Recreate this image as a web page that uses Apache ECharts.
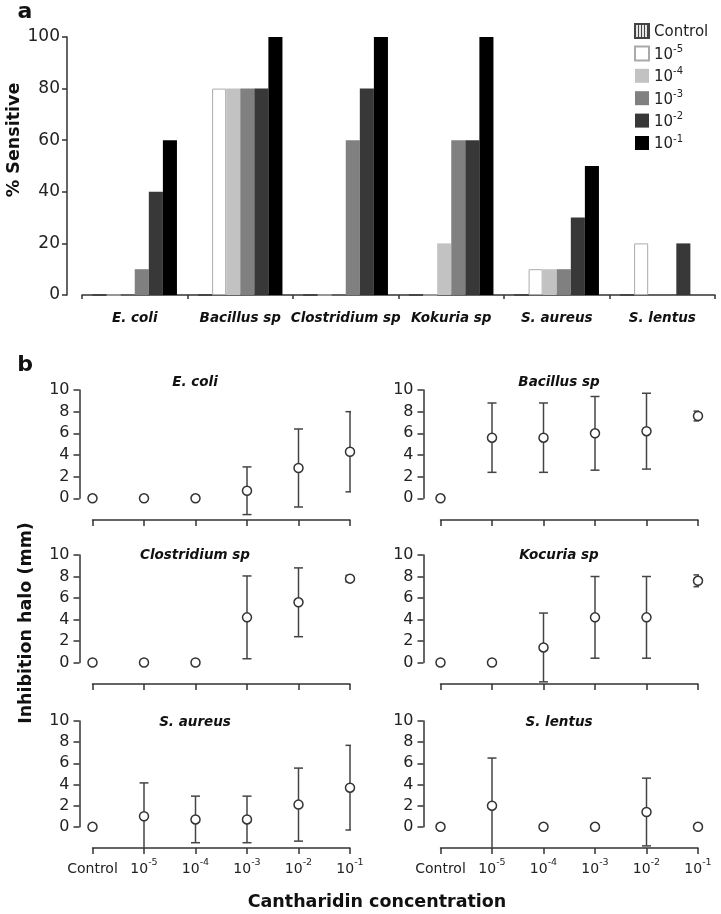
<!DOCTYPE html>
<html><head><meta charset="utf-8">
<script src="https://cdn.jsdelivr.net/npm/echarts@6/dist/echarts.min.js"></script>
<style>html,body{margin:0;padding:0;background:#fff}#c{width:721px;height:914px}</style>
</head><body><div id="c"></div>
<script>
const FONT = 'DejaVu Sans';
// ---------- Panel a data ----------
const organismsA = ['E. coli', 'Bacillus sp', 'Clostridium sp', 'Kokuria sp', 'S. aureus', 'S. lentus'];
const concNames = ['Control', '10^-5', '10^-4', '10^-3', '10^-2', '10^-1'];
const sensControl = [0, 0, 0, 0, 0, 0];
const sens1e5 = [0, 80, 0, 0, 10, 20];
const sens1e4 = [0, 80, 0, 20, 10, 0];
const sens1e3 = [10, 80, 60, 60, 10, 0];
const sens1e2 = [40, 80, 80, 60, 30, 20];
const sens1e1 = [60, 100, 100, 100, 50, 0];
const sensTicks = [0, 20, 40, 60, 80, 100];

// ---------- Panel b data (mean, error) ----------
const haloTitles = ['E. coli', 'Bacillus sp', 'Clostridium sp', 'Kocuria sp', 'S. aureus', 'S. lentus'];
const ecoliMean = [0, 0, 0, 0.7, 2.8, 4.3];
const ecoliErr = [0, 0, 0, 2.2, 3.6, 3.7];
const bacillusMean = [0, 5.6, 5.6, 6.0, 6.2, 7.6];
const bacillusErr = [0, 3.2, 3.2, 3.4, 3.5, 0.45];
const clostridiumMean = [0, 0, 0, 4.2, 5.6, 7.8];
const clostridiumErr = [0, 0, 0, 3.85, 3.2, 0.3];
const kocuriaMean = [0, 0, 1.4, 4.2, 4.2, 7.6];
const kocuriaErr = [0, 0, 3.2, 3.8, 3.8, 0.55];
const saureusMean = [0, 1.0, 0.7, 0.7, 2.1, 3.7];
const saureusErr = [0, 3.15, 2.2, 2.2, 3.45, 4.0];
const slentusMean = [0, 2.0, 0, 0, 1.4, 0];
const slentusErr = [0, 4.5, 0, 0, 3.2, 0];
const haloTicks = [0, 2, 4, 6, 8, 10];
const haloMin = -2;

const sensSeriesData = [sensControl, sens1e5, sens1e4, sens1e3, sens1e2, sens1e1];
const haloMeans = [ecoliMean, bacillusMean, clostridiumMean, kocuriaMean, saureusMean, slentusMean];
const haloErrs = [ecoliErr, bacillusErr, clostridiumErr, kocuriaErr, saureusErr, slentusErr];

// ---------- styling ----------
const barStyles = [
  {color: '#e6e6e6', borderColor: '#444', borderWidth: 1,
   decal: {symbol: 'rect', symbolSize: 1, color: '#444', dashArrayX: [1, 2], dashArrayY: [4, 0], rotation: 0}},
  {color: '#ffffff', borderColor: '#aaaaaa', borderWidth: 1},
  {color: '#c2c2c2'},
  {color: '#808080'},
  {color: '#383838'},
  {color: '#000000'}
];
const AX = '#333';
const TXT = '#222';
function supFmt(v) {
  const p = String(v).split('^');
  return p.length > 1 ? '{b|' + p[0] + '}{s|' + p[1] + '}' : '{b|' + p[0] + '}';
}

// layout
const rowsTop = [390, 555, 721];
const rowsAxis = [520, 684, 848];
const colsLeft = [92.5, 440.5];
const colsRight = [350, 698];
const colsOff = [13, 17];
const titleX = [195, 559];
const titleY = [382, 555, 722];

const grids = [{left: 82, top: 37, width: 633, height: 258, outerBoundsMode: 'none'}];
const xAxes = [{
  type: 'category', gridIndex: 0, data: organismsA,
  axisLine: {show: true, onZero: false, lineStyle: {color: AX, width: 1.5}},
  axisTick: {show: true, length: 4, interval: 0, lineStyle: {color: AX, width: 1.5}},
  axisLabel: {interval: 0, margin: 16, fontFamily: FONT, fontSize: 13.5, fontWeight: 'bold', fontStyle: 'italic', color: '#111'}
}];
const yAxes = [{
  type: 'value', gridIndex: 0, min: sensTicks[0], max: sensTicks[sensTicks.length - 1], interval: sensTicks[1] - sensTicks[0],
  offset: 15, splitLine: {show: false},
  axisLine: {show: true, lineStyle: {color: AX, width: 1.5}},
  axisTick: {show: true, length: 5, lineStyle: {color: AX, width: 1.5}},
  axisLabel: {margin: 7, fontFamily: FONT, fontSize: 17, color: TXT}
}];
const series = [];
concNames.forEach((n, i) => {
  series.push({
    type: 'bar', name: n, xAxisIndex: 0, yAxisIndex: 0, data: sensSeriesData[i],
    barGap: '0%', barCategoryGap: '20%', itemStyle: barStyles[i], silent: true
  });
});

for (let k = 0; k < 6; k++) {
  const r = Math.floor(k / 2), c = k % 2;
  const top = rowsTop[r], h = rowsAxis[r] - top;
  const left = colsLeft[c], w = colsRight[c] - colsLeft[c];
  const yMax = haloTicks[haloTicks.length - 1];
  const decoH = h * (yMax - 0) / (yMax - haloMin);
  grids.push({left: left, top: top, width: w, height: h, outerBoundsMode: 'none'});
  grids.push({left: left, top: top, width: w, height: decoH, outerBoundsMode: 'none'});
  const gi = 1 + 2 * k;
  xAxes.push({
    type: 'category', gridIndex: gi, data: concNames, boundaryGap: false, position: 'bottom',
    axisLine: {show: true, onZero: false, lineStyle: {color: AX, width: 1.5}},
    axisTick: {show: true, length: 6, interval: 0, lineStyle: {color: AX, width: 1.5}},
    axisLabel: {show: r === 2, interval: 0, margin: 10, formatter: supFmt, color: TXT, fontFamily: FONT,
      rich: {b: {fontFamily: FONT, fontSize: 14, lineHeight: 18, verticalAlign: 'bottom', color: TXT},
             s: {fontFamily: FONT, fontSize: 9.5, lineHeight: 9, verticalAlign: 'top', color: TXT}}}
  });
  xAxes.push({type: 'category', gridIndex: gi + 1, data: concNames, show: false});
  yAxes.push({type: 'value', gridIndex: gi, min: haloMin, max: yMax, interval: 2, show: false});
  yAxes.push({
    type: 'value', gridIndex: gi + 1, min: haloTicks[0], max: yMax, interval: haloTicks[1] - haloTicks[0],
    offset: colsOff[c], splitLine: {show: false},
    axisLine: {show: true, lineStyle: {color: AX, width: 1.5}},
    axisTick: {show: true, length: 6, lineStyle: {color: AX, width: 1.5}},
    axisLabel: {margin: 10, fontFamily: FONT, fontSize: 16, color: TXT}
  });
  const m = haloMeans[k], e = haloErrs[k];
  series.push({
    type: 'custom', xAxisIndex: gi, yAxisIndex: gi, clip: true, silent: true, z: 2,
    data: m.map((v, i) => [i, v, e[i]]),
    renderItem: function (params, api) {
      const i = api.value(0), mv = api.value(1), ev = api.value(2);
      if (!ev) return {type: 'group', children: []};
      const t = api.coord([i, mv + ev]), b = api.coord([i, mv - ev]);
      const hw = 4.5;
      const st = {stroke: '#444', lineWidth: 1.5};
      return {type: 'group', children: [
        {type: 'line', shape: {x1: t[0], y1: t[1], x2: b[0], y2: b[1]}, style: st},
        {type: 'line', shape: {x1: t[0] - hw, y1: t[1], x2: t[0] + hw, y2: t[1]}, style: st},
        {type: 'line', shape: {x1: b[0] - hw, y1: b[1], x2: b[0] + hw, y2: b[1]}, style: st}
      ]};
    }
  });
  series.push({
    type: 'scatter', xAxisIndex: gi, yAxisIndex: gi, silent: true, z: 3,
    symbol: 'circle', symbolSize: 9,
    itemStyle: {color: '#fff', borderColor: '#333', borderWidth: 1.5, opacity: 1},
    data: m.map((v, i) => [i, v])
  });
}

const graphics = [
  {type: 'text', x: 25, y: 12, style: {text: 'a', font: 'bold 22px "DejaVu Sans"', fill: '#111', align: 'center', verticalAlign: 'middle'}},
  {type: 'text', x: 25, y: 365, style: {text: 'b', font: 'bold 22px "DejaVu Sans"', fill: '#111', align: 'center', verticalAlign: 'middle'}},
  {type: 'text', x: 14, y: 140, rotation: Math.PI / 2, style: {text: '% Sensitive', font: 'bold 17.5px "DejaVu Sans"', fill: '#111', align: 'center', verticalAlign: 'middle'}},
  {type: 'text', x: 26, y: 623, rotation: Math.PI / 2, style: {text: 'Inhibition halo (mm)', font: 'bold 17.5px "DejaVu Sans"', fill: '#111', align: 'center', verticalAlign: 'middle'}},
  {type: 'text', x: 377, y: 902, style: {text: 'Cantharidin concentration', font: 'bold 17.5px "DejaVu Sans"', fill: '#111', align: 'center', verticalAlign: 'middle'}}
];
haloTitles.forEach((t, k) => {
  const r = Math.floor(k / 2), c = k % 2;
  graphics.push({type: 'text', x: titleX[c], y: titleY[r], style: {text: t, font: 'italic bold 13.5px "DejaVu Sans"', fill: '#111', align: 'center', verticalAlign: 'middle'}});
});

const chart = echarts.init(document.getElementById('c'), null, {renderer: 'canvas'});
chart.setOption({
  animation: false,
  backgroundColor: '#fff',
  textStyle: {fontFamily: FONT},
  tooltip: {show: false},
  legend: {
    data: concNames, orient: 'vertical', left: 634, top: 23, padding: 0, itemWidth: 14, itemHeight: 14, itemGap: 4.4,
    icon: 'rect', selectedMode: false, formatter: supFmt,
    textStyle: {fontFamily: FONT, fontSize: 15, color: TXT,
      rich: {b: {fontFamily: FONT, fontSize: 15, lineHeight: 18, verticalAlign: 'bottom', color: TXT},
             s: {fontFamily: FONT, fontSize: 10, lineHeight: 9, verticalAlign: 'top', color: TXT}}}
  },
  grid: grids,
  xAxis: xAxes,
  yAxis: yAxes,
  series: series,
  graphic: graphics
});
</script>
</body></html>
